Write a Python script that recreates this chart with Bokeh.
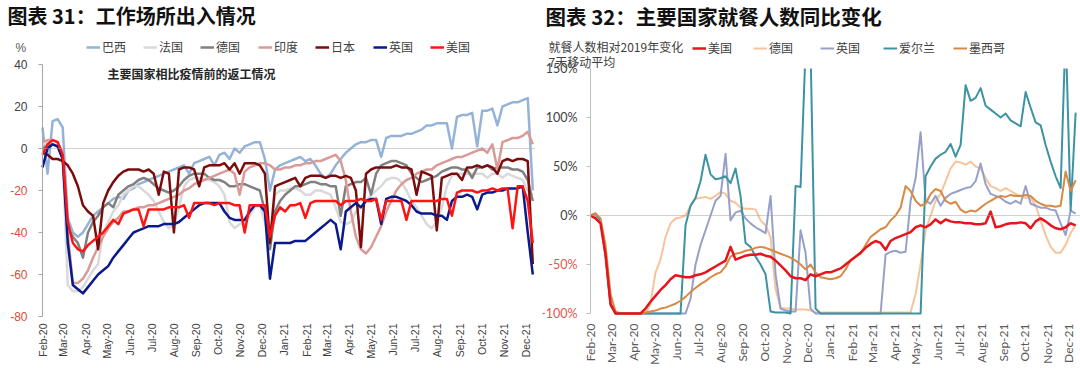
import math
import pandas as pd
from bokeh.plotting import figure
from bokeh.layouts import row
from bokeh.models import (ColumnDataSource, FixedTicker, DatetimeTickFormatter, Label,
                          Legend, LegendItem, Range1d, LinearAxis, BoxAnnotation)
from bokeh.core.properties import value
from bokeh.embed import file_html
from bokeh.resources import INLINE

CJK = "Noto Sans CJK SC"

# ---------------- 图表31 data (weekly, from 2020-02-15) ----------------
work_dates = pd.date_range("2020-02-15", periods=98, freq="7D")
work_tick_dates = pd.date_range("2020-02-15", "2021-12-15", freq=pd.DateOffset(months=1))
work_yticks = [-80, -60, -40, -20, 0, 20, 40]
work_names = ["巴西", "法国", "德国", "印度", "日本", "英国", "美国"]

brazil = [
    10, -12, 13, 14, 10, -33, -40, -42, -40, -36,
    -32, -30, -28, -26, -24, -23, -24, -20, -19, -17,
    -16, -15, -14, -13, -12, -11, -10, -9, -8, -12,
    -7, -6, -5, -4, -8, -3, -2, -5, 0, -2,
    1, 2, 3, 3, -5, -20, -10, -8, -7, -6,
    -5, -4, -6, -5, -8, -12, -14, -12, -8, -5,
    -2, 0, 2, 3, 3, 4, 4, -4, 5, 6,
    6, 6, 7, 7, 8, 9, 11, 11, 12, 12,
    12, 0, 15, 16, 16, 17, 1, 18, 18, 19,
    11, 20, 21, 22, 22, 23, 24, -20]
france = [
    2, 3, 2, 1, -5, -65, -68, -68, -66, -62,
    -58, -55, -40, -35, -30, -27, -22, -20, -18, -18,
    -20, -22, -25, -30, -35, -38, -36, -28, -18, -15,
    -14, -14, -15, -15, -16, -18, -22, -35, -38, -36,
    -35, -32, -28, -27, -35, -45, -22, -20, -20, -19,
    -19, -20, -22, -22, -20, -20, -21, -22, -28, -35,
    -36, -35, -30, -28, -25, -22, -20, -18, -15, -14,
    -14, -16, -20, -25, -28, -32, -36, -38, -35, -28,
    -18, -13, -12, -12, -12, -12, -12, -12, -14, -12,
    -12, -14, -12, -13, -14, -15, -20, -22]
germany = [
    0, 1, 2, 1, -5, -38, -42, -45, -52, -40,
    -35, -32, -28, -26, -28, -22, -20, -18, -17, -15,
    -14, -15, -17, -19, -20, -21, -20, -18, -15, -13,
    -12, -12, -12, -14, -15, -15, -16, -18, -18, -17,
    -17, -18, -19, -20, -30, -48, -30, -25, -22, -20,
    -18, -18, -17, -16, -16, -17, -17, -18, -18, -32,
    -18, -17, -16, -16, -14, -22, -12, -8, -7, -6,
    -6, -7, -8, -12, -14, -16, -15, -14, -13, -11,
    -10, -9, -9, -10, -10, -14, -9, -9, -8, -10,
    -9, -9, -9, -10, -10, -11, -15, -25]
india = [
    3, 4, 4, 3, -2, -40, -64, -64, -62, -58,
    -52, -47, -42, -38, -35, -33, -30, -30, -29, -28,
    -28, -27, -27, -26, -25, -24, -23, -22, -20, -19,
    -17, -16, -15, -14, -13, -12, -11, -10, -12, -22,
    -11, -9, -8, -7, -7, -8, -10, -10, -9, -9,
    -8, -8, -7, -7, -6, -6, -5, -4, -3, -6,
    -15, -30, -42, -48, -50, -47, -42, -37, -30, -25,
    -20, -17, -15, -14, -12, -11, -10, -10, -8, -7,
    -6, -5, -4, -4, -3, -2, -1, 0, -2, 2,
    -10, 3, 4, 5, 5, 6, 8, 2]
japan = [
    -2, -3, -5, -5, -6, -8, -12, -18, -27, -30,
    -32, -48, -26, -20, -16, -13, -11, -10, -10, -10,
    -11, -10, -12, -22, -11, -12, -40, -10, -9, -9,
    -10, -18, -9, -8, -8, -8, -7, -10, -7, -12,
    -7, -7, -7, -8, -12, -45, -18, -17, -16, -15,
    -14, -18, -14, -13, -13, -13, -14, -13, -13, -14,
    -13, -14, -20, -47, -12, -10, -9, -9, -9, -9,
    -8, -9, -9, -10, -22, -11, -12, -13, -39, -14,
    -13, -12, -12, -15, -9, -9, -8, -9, -8, -9,
    -12, -6, -5, -6, -5, -5, -6, -55]
uk = [
    -9, 0, 2, 1, -5, -45, -65, -67, -69, -66,
    -63, -60, -58, -56, -52, -49, -46, -43, -40, -39,
    -38, -37, -37, -37, -36, -36, -36, -35, -33, -31,
    -29, -27, -26, -26, -26, -26, -30, -33, -34, -34,
    -34, -30, -27, -27, -30, -62, -45, -45, -45, -45,
    -44, -44, -44, -42, -40, -38, -36, -34, -36, -48,
    -30, -28, -26, -28, -25, -24, -24, -36, -24, -23,
    -23, -24, -25, -27, -30, -31, -31, -31, -32, -32,
    -34, -25, -23, -23, -22, -23, -29, -22, -21, -21,
    -20, -20, -19, -19, -19, -18, -40, -60]
us = [
    -3, 2, 4, 3, -3, -35, -45, -48, -49, -46,
    -44, -42, -40, -37, -34, -36, -31, -30, -29, -29,
    -37, -29, -29, -29, -29, -28, -28, -28, -27, -33,
    -26, -26, -26, -26, -27, -26, -26, -26, -27, -27,
    -40, -27, -27, -27, -27, -42, -32, -28, -30, -27,
    -27, -26, -33, -26, -25, -25, -25, -25, -25, -27,
    -25, -25, -25, -24, -25, -25, -24, -34, -25, -25,
    -25, -25, -34, -25, -25, -25, -25, -25, -25, -24,
    -24, -32, -21, -20, -20, -20, -21, -20, -20, -19,
    -20, -19, -19, -38, -18, -18, -25, -45]

# ---------------- 图表32 data (weekly, from 2020-02-18), % vs 2019 ----------------
dine_dates = pd.date_range("2020-02-18", periods=98, freq="7D")
dine_tick_dates = pd.date_range("2020-02-18", "2021-12-18", freq=pd.DateOffset(months=1))
dine_yticks = [-100, -50, 0, 50, 100, 150]
dine_names = ["美国", "德国", "英国", "爱尔兰", "墨西哥"]

dine_us = [
    0, -3, -8, -40, -90, -100, -100, -100, -100, -100,
    -100, -95, -88, -82, -76, -71, -65, -61, -62, -63,
    -63, -61, -60, -58, -55, -52, -49, -46, -32, -45,
    -43, -41, -40, -40, -39, -41, -42, -46, -51, -56,
    -62, -64, -64, -66, -60, -62, -60, -58, -58, -56,
    -54, -50, -46, -42, -38, -33, -29, -26, -28, -35,
    -26, -23, -21, -19, -17, -12, -10, -12, -9, -4,
    -8, -4, -6, -7, -7, -8, -8, -9, -9, -8,
    4, -12, -11, -9, -8, -8, -7, -8, -13, -6,
    -3, -6, -10, -13, -14, -12, -8, -10]
dine_de = [
    0, 2, -5, -40, -90, -100, -100, -100, -100, -100,
    -100, -100, -90, -58, -45, -22, -8, -3, -2, 0,
    10, 17, 18, 19, 17, 20, 24, 22, 15, 13,
    8, 7, 7, 6, -5, -10, -22, -75, -94, -95,
    -95, -96, -96, -96, -97, -99, -99, -99, -99, -99,
    -99, -99, -99, -99, -99, -99, -99, -99, -99, -99,
    -99, -99, -99, -99, -99, -80, -50, -15, 0, 15,
    22, 35, 48, 55, 54, 52, 55, 50, 48, 38,
    30, 28, 25, 28, 25, 22, 20, 18, 18, 10,
    -5, -20, -32, -38, -38, -30, -18, -10]
dine_uk = [
    0, 0, -5, -40, -90, -100, -100, -100, -100, -100,
    -100, -100, -100, -100, -100, -100, -100, -100, -100, -100,
    -85, -50, -30, -15, 0, 15, 20, 63, -5, 3,
    5, -3, -8, -12, -15, -18, 20, -60, -95, -97,
    -98, -98, -15, -38, -95, -100, -100, -100, -100, -100,
    -100, -100, -100, -100, -100, -100, -100, -100, -100, -40,
    -37, -36, -38, -37, 15, 38, 85, 15, 12, 20,
    10, 18, 22, 24, 26, 28, 29, 35, 53, 32,
    22, 20, 18, 14, 12, 15, 12, 30, 12, 10,
    8, 8, 6, 5, -8, -20, 5, 2]
dine_ie = [
    0, 2, -5, -40, -92, -100, -100, -100, -100, -100,
    -100, -100, -100, -100, -100, -100, -100, -100, -100, -10,
    10, 18, 35, 62, 42, 37, 38, 40, 33, 48,
    20, -28, -32, -42, -50, -60, -98, -99, -99, -99,
    -100, 30, 29, 170, 170, -95, -100, -100, -100, -100,
    -100, -100, -100, -100, -100, -100, -100, -100, -100, -100,
    -100, -100, -100, -100, -100, -100, -100, 40, 50, 58,
    62, 65, 73, 60, 72, 133, 117, 120, 130, 112,
    108, 104, 100, 104, 97, 94, 91, 126, 110, 95,
    92, 72, 55, 40, 28, 190, 5, 105]
dine_mx = [
    0, 2, -3, -30, -80, -98, -100, -100, -100, -100,
    -100, -99, -98, -97, -95, -94, -92, -90, -87, -83,
    -78, -74, -70, -67, -63, -60, -58, -52, -42, -39,
    -38, -36, -35, -33, -32, -33, -35, -37, -39, -41,
    -43, -46, -50, -55, -50, -58, -63, -64, -65, -64,
    -62, -55, -46, -42, -39, -30, -22, -18, -14, -12,
    -5, 0, 8, 30, 25, 15, 10, 12, 22, 27,
    25, 15, 12, 14, 6, 3, 5, 4, 8, 12,
    15, 18, 20, 19, 21, 20, 20, 21, 20, 15,
    12, 10, 10, 9, 10, 45, 25, 36]

work_series = [brazil, france, germany, india, japan, uk, us]
dine_series = [dine_us, dine_de, dine_uk, dine_ie, dine_mx]
for s in work_series:
    assert len(s) == len(work_dates), len(s)
for s in dine_series:
    assert len(s) == len(dine_dates), len(s)

DAY = pd.Timedelta(days=1)


def ms(ts):
    return float(pd.Timestamp(ts).timestamp() * 1000)


def date_fmt():
    f = "%b-%y"
    return DatetimeTickFormatter(microseconds=f, milliseconds=f, seconds=f, minsec=f, minutes=f,
                                 hourmin=f, hours=f, days=f, months=f, years=f)


def add_text(p, text, sx, sy, size, color="#404040", font=CJK, bold=False,
             align="left", baseline="middle", y_units="screen"):
    p.add_layout(Label(x=sx, y=sy, x_units="screen", y_units=y_units, text=text,
                       text_font=font, text_font_size=size, text_color=color,
                       text_font_style="bold" if bold else "normal",
                       text_align=align, text_baseline=baseline))


def add_key(p, renderer, text, vx, vy):
    lg = Legend(items=[LegendItem(label=value(text), renderers=[renderer])],
                location=(vx, vy), orientation="horizontal",
                glyph_width=14, glyph_height=12, label_standoff=2,
                label_height=12, label_width=10, padding=0, margin=0, spacing=0,
                background_fill_alpha=0, border_line_alpha=0,
                label_text_font=CJK, label_text_font_size="12px",
                label_text_color="#404040")
    p.add_layout(lg, "center")


def base_fig(anchor, anchor_px, px_per_day, frame_left, frame_w, y0, y1, right):
    # anchor date sits at anchor_px inside the figure; frame starts at frame_left
    x0 = anchor - DAY * ((anchor_px - frame_left) / px_per_day)
    x1 = anchor + DAY * ((frame_left + frame_w - anchor_px) / px_per_day)
    p = figure(width=540, height=368, x_axis_type="datetime", y_axis_location=None, title=None,
               output_backend="svg", toolbar_location=None,
               x_range=Range1d(x0, x1), y_range=Range1d(y0, y1),
               min_border_left=frame_left, min_border_right=right, min_border_top=0,
               min_border_bottom=46)
    p.outline_line_color = None
    p.xgrid.visible = False
    p.ygrid.visible = False
    p.background_fill_color = "white"
    p.border_fill_color = "white"
    p.xaxis.axis_line_color = None
    p.xaxis.major_tick_line_color = None
    p.xaxis.major_tick_out = 0
    p.xaxis.major_tick_in = 0
    p.xaxis.minor_tick_line_color = None
    p.xaxis.major_label_orientation = math.pi / 2
    p.xaxis.major_label_standoff = 1
    p.xaxis.formatter = date_fmt()
    return p


def value_axis(p, x_at, ticks, lo, hi, color, font, size, standoff, labels):
    ax = LinearAxis(fixed_location=x_at, bounds=(lo, hi),
                    ticker=FixedTicker(ticks=ticks, minor_ticks=[]),
                    axis_line_color=color, major_tick_line_color=color,
                    minor_tick_line_color=None, major_tick_in=0, major_tick_out=4,
                    major_label_standoff=standoff, major_label_text_font=font,
                    major_label_text_font_size=size, major_label_text_color="#404040",
                    major_label_overrides=labels)
    p.add_layout(ax, "left")


def zero_line(p, x_at, color):
    p.add_layout(BoxAnnotation(left=x_at, bottom=-0.01, top=0.01, fill_alpha=0,
                               line_color=color, line_width=1))


# ======================= 图表31 =======================
L1 = 6  # frame left inside the figure
w0 = pd.Timestamp(work_dates[0])
p1 = base_fig(w0, 42, 0.7221, L1, 529, -80 - 6 / 2.1, 40 + 64 / 2.1, 5)
p1.xaxis.ticker = FixedTicker(ticks=[ms(t) for t in work_tick_dates], minor_ticks=[])
p1.xaxis.major_label_text_font = "Liberation Sans"
p1.xaxis.major_label_text_font_size = "10.5px"
p1.xaxis.major_label_text_color = "#404040"
value_axis(p1, ms(w0), work_yticks, -80, 40, "#A6A6A6", "Liberation Sans", "12px", 11,
           {v: ("" if v < 0 else str(v)) for v in work_yticks})
zero_line(p1, ms(w0), "#A6A6A6")
for v in work_yticks:
    if v < 0:
        add_text(p1, str(v), 27 - L1, v, "12px", color="#E04B36", font="Liberation Sans",
                 align="right", y_units="data")

src1 = ColumnDataSource(dict(date=work_dates, **{f"s{i}": s for i, s in enumerate(work_series)}))
work_colors = ["#95B3D7", "#D9D9D9", "#808080", "#D99A98", "#7B0C0C", "#0B1A8A", "#FF1414"]
work_key_x = [86, 143, 200, 258, 315, 373, 430]
for i, name in enumerate(work_names):
    r = p1.line("date", f"s{i}", source=src1, line_color=work_colors[i], line_width=2.5,
                line_join="round")
    add_key(p1, r, name, work_key_x[i] - L1, 267)

add_text(p1, "图表 31：工作场所出入情况", 7 - L1, 307, "20px", color="#111111", bold=True)
add_text(p1, "%", 15 - L1, 275, "12px", color="#595959", font="Liberation Sans")
add_text(p1, "主要国家相比疫情前的返工情况", 107 - L1, 249, "12px", color="#262626", bold=True)

# ======================= 图表32 =======================
L2 = 2
d0 = pd.Timestamp(dine_dates[0])
p2 = base_fig(d0, 50, 0.7145, L2, 538, -100 - 9 / 0.98, 150 + 68 / 0.98, 0)
p2.xaxis.ticker = FixedTicker(ticks=[ms(t) for t in dine_tick_dates], minor_ticks=[])
p2.xaxis.major_label_text_font = "Lato"
p2.xaxis.major_label_text_font_size = "12px"
p2.xaxis.major_label_text_color = "#595959"
value_axis(p2, ms(d0), dine_yticks, -100, 150, "#BFBFBF", "Lato", "12.5px", 9,
           {v: (f"{v}%" if v >= 0 else "") for v in dine_yticks})
zero_line(p2, ms(d0), "#A6A6A6")
for v in dine_yticks:
    if v < 0:
        add_text(p2, f"{v}%", 37 - L2, v, "12.5px", color="#E5554F", font="Lato",
                 align="right", y_units="data")

src2 = ColumnDataSource(dict(date=dine_dates, **{f"s{i}": s for i, s in enumerate(dine_series)}))
dine_colors = ["#E8141C", "#F8C39A", "#96A0C8", "#3D93A3", "#D68A45"]
dine_widths = [2.5, 2, 2, 2, 2]
dine_key_x = [152, 213, 280, 343, 413]
rends = {}
for i in [1, 2, 3, 4, 0]:
    rends[i] = p2.line("date", f"s{i}", source=src2, line_color=dine_colors[i],
                       line_width=dine_widths[i], line_join="round")
# the value axis stops at 150%: mask anything drawn above it
p2.add_layout(BoxAnnotation(left=ms(d0 + DAY), bottom=150, fill_color="white",
                            fill_alpha=1, line_color=None))
for i, name in enumerate(dine_names):
    add_key(p2, rends[i], name, dine_key_x[i] - L2, 266)

add_text(p2, "图表 32：主要国家就餐人数同比变化", 5 - L2, 307, "20.5px", color="#111111", bold=True)
add_text(p2, "就餐人数相对2019年变化", 8 - L2, 276, "12px", color="#404040")
add_text(p2, "7天移动平均", 8 - L2, 261, "12px", color="#404040")

layout = row(p1, p2)
open("out.html", "w").write(file_html(layout, INLINE))
